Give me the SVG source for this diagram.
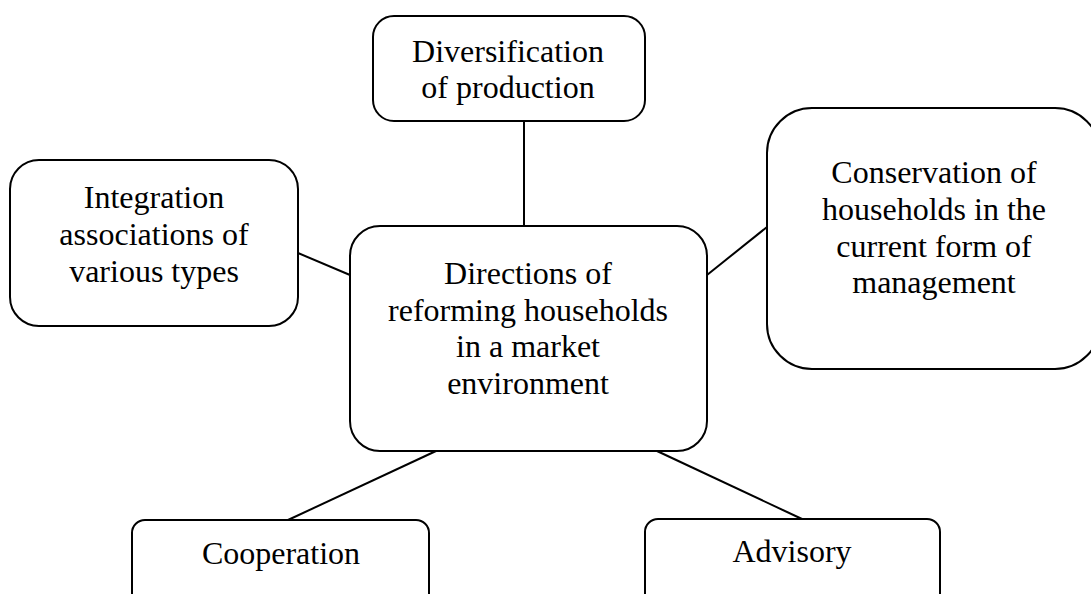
<svg xmlns="http://www.w3.org/2000/svg" width="1091" height="594" viewBox="0 0 1091 594">
<style>
.box{fill:#fff;stroke:#000;stroke-width:2}
.lbl{font-family:"Liberation Serif","Times New Roman",serif;font-size:32px;fill:#000;text-anchor:middle}
.conn line{stroke:#000;stroke-width:2}
</style>
<rect width="1091" height="594" fill="#fff"/>
<g class="conn" id="connectors">
<line x1="524" y1="121" x2="524" y2="226"/>
<line x1="298" y1="253" x2="350" y2="275"/>
<line x1="707" y1="275" x2="767" y2="227"/>
<line x1="436" y1="451" x2="288" y2="520"/>
<line x1="657" y1="451" x2="802" y2="519"/>
</g>
<g id="diversification">
<rect class="box" x="373" y="16" width="272" height="105" rx="21" ry="21"/>
<text class="lbl" x="508" y="62">Diversification</text>
<text class="lbl" x="508" y="98">of production</text>
</g>
<g id="integration">
<rect class="box" x="10" y="160" width="288" height="166" rx="29" ry="29"/>
<text class="lbl" x="154" y="208">Integration</text>
<text class="lbl" x="154" y="245">associations of</text>
<text class="lbl" x="154" y="282">various types</text>
</g>
<g id="center">
<rect class="box" x="350" y="226" width="357" height="225" rx="30" ry="30"/>
<text class="lbl" x="528" y="284">Directions of</text>
<text class="lbl" x="528" y="321">reforming households</text>
<text class="lbl" x="528" y="357">in a market</text>
<text class="lbl" x="528" y="394">environment</text>
</g>
<g id="conservation">
<rect class="box" x="767" y="108" width="333" height="261" rx="45" ry="45"/>
<text class="lbl" x="934" y="183">Conservation of</text>
<text class="lbl" x="934" y="220">households in the</text>
<text class="lbl" x="934" y="257">current form of</text>
<text class="lbl" x="934" y="293">management</text>
</g>
<g id="cooperation">
<rect class="box" x="132" y="520" width="297" height="100" rx="13" ry="13"/>
<text class="lbl" x="281" y="564">Cooperation</text>
</g>
<g id="advisory">
<rect class="box" x="645" y="519" width="295" height="100" rx="13" ry="13"/>
<text class="lbl" x="792" y="562">Advisory</text>
</g>
</svg>
